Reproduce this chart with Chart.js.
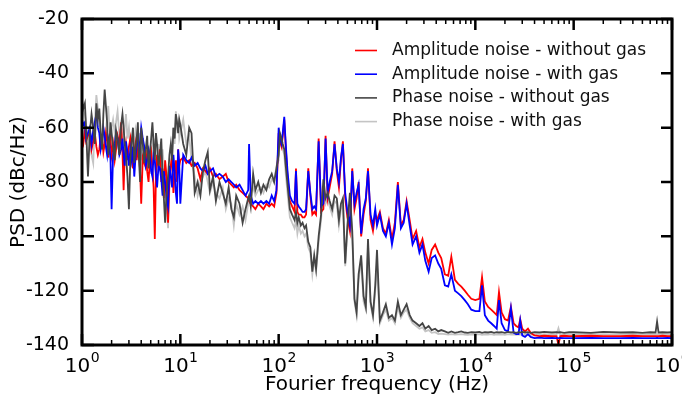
<!DOCTYPE html>
<html>
<head>
<meta charset="utf-8">
<title>PSD</title>
<script src="https://cdn.jsdelivr.net/npm/chart.js@4.4.1/dist/chart.umd.min.js"></script>
<style>
  html, body { margin: 0; padding: 0; background: #fff; overflow: hidden; }
  canvas { display: block; }
</style>
</head>
<body>
<canvas id="psdChart" width="682" height="401"></canvas>
<script>
// Fourier frequency (Hz)
const freq = [
  1, 1.03, 1.07, 1.1, 1.15, 1.2, 1.25, 1.3, 1.35, 1.4, 1.45, 1.5, 1.55, 1.6, 1.65, 1.7, 1.75, 1.8, 1.85, 1.9, 1.95, 2, 2.07, 2.15, 2.22, 2.3, 2.4, 2.5, 2.58, 2.65, 2.72, 2.8, 2.9, 3, 3.1, 3.2, 3.3, 3.4, 3.5, 3.6, 3.7, 3.8, 3.9, 4, 4.15, 4.3, 4.45, 4.6, 4.75, 4.9, 5.05, 5.2, 5.35, 5.5, 5.65, 5.8, 6, 6.2, 6.4, 6.6, 6.8, 7, 7.25, 7.5, 7.75, 8, 8.25, 8.5, 8.75, 9, 9.25, 9.5, 9.75,
  10, 10.7, 11.5, 12.3, 13, 14, 15, 16, 17, 18, 19, 20, 21.5, 23, 25, 27, 29, 31, 33, 35, 37, 40, 43, 46, 49, 50, 52, 55, 58, 62, 66, 70, 75, 80, 85, 90, 95,
  100, 103, 107, 110, 114, 118, 123, 130, 137, 145, 150, 155, 160, 168, 175, 183, 190, 200, 210, 220, 230, 240, 255, 270, 285, 300, 315, 330, 350, 370, 390, 410, 430, 450, 475, 500, 530, 560, 590, 620, 650, 690, 730, 770, 810, 860, 910, 960,
  1000, 1070, 1150, 1230, 1320, 1420, 1520, 1630, 1750, 1870, 2000, 2150, 2300, 2500, 2700, 2900, 3100, 3350, 3600, 3900, 4200, 4500, 4900, 5300, 5700, 6200, 6700, 7200, 7800, 8400, 9100,
  10000, 11000, 11700, 12500, 13500, 14500, 15500, 16500, 17400, 18500, 20000, 21500, 23000, 24500, 26000, 27500, 28600, 30000, 32000, 34300, 36500, 40000, 45000, 50000, 60000, 67000, 70000, 73000, 80000, 90000,
  100000, 150000, 200000, 300000, 400000, 500000, 600000, 680000, 705000, 730000, 800000, 900000, 1000000
];

// PSD (dBc/Hz)
const ampNoGas = [
  -64.5, -66, -61, -65, -63, -62, -68, -65, -62, -67, -70, -68, -63, -64, -69, -66, -62, -65, -71, -67, -64, -70, -66, -72, -68, -63, -66, -58, -69, -83, -70, -66, -72, -67, -64, -70, -75, -69, -66, -72, -68, -70, -76, -88, -71, -73, -68, -76, -80, -72, -69, -75, -82, -101, -78, -70, -74, -68, -80, -75, -86, -72, -78, -95, -79, -74, -70, -84, -77, -72, -80, -68, -74,
  -72, -71, -73, -72, -74, -73, -75, -79, -75, -76, -77, -75, -78, -77, -79, -78, -77, -80, -81, -82, -81, -83, -84, -85, -86, -87, -88, -89, -90, -88, -89, -90, -88, -89, -88, -89, -84,
  -62, -65, -67, -63, -57, -67, -78, -87, -89, -91, -75, -91, -92, -92, -93, -93, -92, -75, -85, -92, -91, -92, -64, -91, -90, -63, -86, -82, -77, -65, -76, -82, -72, -65, -86, -93, -98, -75, -90, -86, -80, -100, -92, -87, -75, -94, -98, -92,
  -94, -91, -97, -99, -94, -101, -95, -80, -96, -94, -87, -94, -101, -98, -104, -101, -106, -110, -105, -103, -106, -108, -114, -114.5, -107.5, -116, -117.5, -118.5, -120, -121.5, -123,
  -123.5, -123, -115, -124, -126, -127, -128, -129, -120.5, -128, -130.5, -131, -126, -132, -133, -133.5, -130.5, -134, -135, -134, -135.5, -136.5, -136.7, -136.6, -136.7, -136.7, -140, -136.7, -136.6, -136.7,
  -136.7, -136.6, -136.7, -136.7, -136.6, -136.7, -136.7, -136.7, -136.7, -136.7, -136.6, -136.7, -136.7
];
const ampGas = [
  -57, -59, -58, -64, -62, -60, -66, -61, -58, -55, -60, -62, -68, -65, -60, -63, -67, -70, -64, -66, -72, -90, -70, -66, -62, -64, -70, -68, -64, -70, -74, -65, -69, -74, -68, -72, -67, -78, -71, -66, -63, -70, -65, -60, -64, -67, -74, -72, -68, -70, -76, -78, -70, -72, -77, -82, -74, -75, -79, -85, -76, -80, -86, -89, -74, -78, -82, -70, -76, -84, -88, -68, -74,
  -88, -70, -72, -73, -71, -74, -73, -75, -76, -74, -77, -76, -75, -78, -77, -78, -80, -79, -80, -81, -82, -81, -83, -85, -83, -66, -85, -88, -87, -88, -87, -88, -87, -88, -85, -87, -83,
  -60, -64, -66, -62, -56, -66, -76, -85, -87, -88, -76, -88, -89, -90, -91, -91, -90, -76, -84, -90, -89, -90, -65, -89, -88, -64, -84, -80, -76, -66, -75, -80, -71, -66, -84, -91, -96, -76, -88, -84, -81, -99, -90, -86, -76, -92, -96, -90,
  -96, -92, -98, -100, -95, -103, -97, -81, -97, -95, -88, -96, -103, -100, -106, -103, -109, -113, -108, -107, -110, -112, -118, -118.5, -114, -120, -121, -122, -123.5, -125, -127,
  -127.5, -127.5, -118, -129, -131, -132, -133, -134, -123.5, -132, -134.5, -135, -126.5, -135.5, -136, -136, -131, -136.5, -137, -136, -137, -137.5, -137.3, -137.5, -137.4, -137.5, -137.5, -137.4, -137.5, -137.5,
  -137.5, -137.4, -137.5, -137.5, -137.4, -137.5, -137.5, -137.5, -137.4, -137.5, -137.5, -137.4, -137.5
];
const phaseNoGas = [
  -50, -53, -51, -60, -78, -62, -55, -60, -66, -51, -57, -53, -62, -68, -55, -46, -52, -58, -70, -66, -58, -62, -67, -72, -61, -64, -70, -59, -55, -60, -66, -70, -78, -90, -72, -65, -60, -73, -68, -64, -58, -72, -80, -60, -66, -73, -68, -63, -75, -70, -64, -58, -66, -72, -62, -66, -74, -70, -64, -78, -86, -95, -84, -78, -70, -66, -72, -60, -64, -55, -58, -62, -57,
  -59, -66, -70, -60, -62, -84, -80, -85, -76, -72, -69, -83, -78, -87, -80, -84, -88, -82, -90, -93, -85, -88, -95, -90, -86, -85, -89, -77, -83, -80, -84, -81, -83, -79, -77, -80, -75,
  -70, -62, -64, -66, -68, -74, -81, -90, -92, -94, -91, -95, -93, -96, -95, -97, -96, -102, -104, -113, -107, -112, -100, -92, -79, -86, -84, -87, -90, -85, -86, -94, -88, -86, -110, -96, -84, -98, -123, -128, -114, -107, -122, -126, -101, -124, -129, -118,
  -105, -131, -128, -125, -130, -129, -131, -124, -129, -127, -125, -129, -131, -132, -133, -132, -134, -133, -134.5, -134, -135, -134.5, -135, -135.5, -135, -135.5, -135.3, -135, -135.4, -135.5, -135.3,
  -135.4, -135.2, -135.5, -135.3, -135.4, -135.2, -135.5, -135.3, -135.4, -135.3, -135.5, -135.2, -135.4, -135.3, -135.5, -135.3, -135.4, -135.2, -135.4, -135.3, -135.5, -135.3, -135.4, -135.2, -135.4, -135.3, -135.4, -135.3, -135.5, -135.3,
  -135.3, -135.5, -135.2, -135.4, -135.3, -135.5, -135.3, -135.4, -131.4, -135.4, -135.3, -135.4, -135.3
];
const phaseGas = [
  -58, -54, -55, -59, -62, -66, -70, -73, -58, -48, -53, -58, -66, -64, -60, -68, -62, -56, -52, -60, -64, -60, -57, -62, -58, -54, -63, -60, -65, -66, -60, -55, -64, -60, -67, -70, -63, -66, -61, -64, -69, -62, -67, -72, -65, -68, -75, -74, -67, -71, -77, -68, -64, -73, -80, -70, -66, -76, -72, -68, -74, -84, -90, -97, -82, -75, -68, -60, -66, -54, -60, -58, -64,
  -62, -57, -66, -63, -72, -78, -85, -80, -78, -76, -80, -84, -80, -84, -86, -82, -90, -86, -88, -96, -88, -92, -89, -94, -88, -86, -84, -82, -85, -83, -82, -84, -81, -82, -79, -80, -74,
  -72, -64, -66, -68, -70, -77, -84, -93, -95, -97, -94, -99, -96, -99, -98, -100, -99, -104, -106, -114, -108, -113, -102, -94, -82, -88, -86, -89, -92, -87, -88, -96, -90, -88, -111, -98, -86, -100, -124, -129, -116, -109, -124, -127, -103, -125, -130, -120,
  -110, -132, -129, -127, -131, -130, -132, -126, -130, -128, -127, -130, -132, -133, -134, -133.5, -135, -134.5, -135.5, -135.3, -136, -135.8, -136, -136.2, -136, -136.2, -136.1, -136, -136.2, -136.3, -136.1,
  -136.2, -136, -136.3, -136.1, -136.2, -136, -136.3, -136.1, -136.2, -136.1, -136.3, -136, -136.2, -136.1, -136.3, -136.1, -136.2, -136, -136.2, -136.1, -136.3, -136.1, -136.2, -136, -136.2, -136.1, -133.8, -136.1, -136.3, -136.1,
  -136.1, -136.2, -136, -136.2, -136.1, -136.3, -136.1, -136.2, -136, -136.2, -136.1, -136.2, -136.1
];

const seriesLabels = ['Amplitude noise - without gas', 'Amplitude noise - with gas', 'Phase noise - without gas', 'Phase noise - with gas'];
const decadeTicks = [1, 10, 100, 1000, 10000, 100000, 1000000];
const decadeExp = ['0', '1', '2', '3', '4', '5', '6'];
const psdTicks = [-140, -120, -100, -80, -60, -40, -20];

const FONT = '"DejaVu Sans", "Liberation Sans", Arial, sans-serif';
const toXY = vals => freq.map((f, i) => ({ x: f, y: vals[i] }));

// frame, inward ticks, x tick labels with superscripts
const frameAndTicks = {
  id: 'frameAndTicks',
  afterDatasetsDraw(chart) {
    const { ctx, chartArea: a, scales: { x, y } } = chart;
    ctx.save();
    ctx.strokeStyle = '#000';

    ctx.lineWidth = 1.5;
    ctx.beginPath();
    for (let d = 0; d < decadeTicks.length - 1; d++) {
      for (let m = 2; m <= 9; m++) {
        const px = x.getPixelForValue(decadeTicks[d] * m);
        ctx.moveTo(px, a.bottom); ctx.lineTo(px, a.bottom - 5);
        ctx.moveTo(px, a.top); ctx.lineTo(px, a.top + 5);
      }
    }
    ctx.stroke();

    ctx.lineWidth = 2.5;
    ctx.beginPath();
    decadeTicks.forEach(v => {
      const px = x.getPixelForValue(v);
      ctx.moveTo(px, a.bottom); ctx.lineTo(px, a.bottom - 11);
      ctx.moveTo(px, a.top); ctx.lineTo(px, a.top + 11);
    });
    psdTicks.forEach(v => {
      const py = y.getPixelForValue(v);
      ctx.moveTo(a.left, py); ctx.lineTo(a.left + 12, py);
      ctx.moveTo(a.right, py); ctx.lineTo(a.right - 11, py);
    });
    ctx.stroke();

    ctx.lineWidth = 3;
    ctx.strokeRect(a.left, a.top, a.right - a.left, a.bottom - a.top);

    ctx.fillStyle = '#000';
    ctx.textBaseline = 'alphabetic';
    ctx.textAlign = 'left';
    decadeTicks.forEach((v, i) => {
      const px = x.getPixelForValue(v);
      ctx.font = '20px ' + FONT;
      const wBase = ctx.measureText('10').width;
      ctx.font = '14px ' + FONT;
      const wExp = ctx.measureText(decadeExp[i]).width;
      const left = px - (wBase + wExp) / 2;
      ctx.font = '20px ' + FONT;
      ctx.fillText('10', left, a.bottom + 27);
      ctx.font = '14px ' + FONT;
      ctx.fillText(decadeExp[i], left + wBase + 0.5, a.bottom + 17);
    });
    ctx.restore();
  }
};

// legend inside plot, top right
const insideLegend = {
  id: 'insideLegend',
  afterDraw(chart) {
    const { ctx } = chart;
    ctx.save();
    ctx.font = '17px ' + FONT;
    ctx.textBaseline = 'middle';
    ctx.textAlign = 'left';
    chart.data.datasets.forEach((ds, i) => {
      const yy = 50.5 + i * 23.7;
      ctx.strokeStyle = ds.borderColor;
      ctx.lineWidth = 1.6;
      ctx.beginPath();
      ctx.moveTo(355, yy); ctx.lineTo(377, yy);
      ctx.stroke();
      ctx.fillStyle = '#111';
      ctx.fillText(ds.label, 392, yy);
    });
    ctx.restore();
  }
};

new Chart(document.getElementById('psdChart'), {
  type: 'line',
  data: {
    datasets: [
      { label: seriesLabels[0], data: toXY(ampNoGas), borderColor: '#ff0000', order: 2 },
      { label: seriesLabels[1], data: toXY(ampGas), borderColor: '#0000ff', order: 1 },
      { label: seriesLabels[2], data: toXY(phaseNoGas), borderColor: '#454545', order: 0 },
      { label: seriesLabels[3], data: toXY(phaseGas), borderColor: '#c4c4c4', order: 3 }
    ]
  },
  options: {
    responsive: false,
    animation: false,
    devicePixelRatio: 1,
    layout: { padding: { left: 0, top: 19, right: 10, bottom: 0 } },
    elements: {
      point: { radius: 0 },
      line: { borderWidth: 1.8, tension: 0 }
    },
    scales: {
      x: {
        type: 'logarithmic',
        min: 1,
        max: 1000000,
        grid: { display: false },
        border: { display: false },
        ticks: { display: false },
        title: {
          display: true,
          text: 'Fourier frequency (Hz)',
          color: '#000',
          font: { family: FONT, size: 20 },
          padding: { top: 4, bottom: 4 }
        },
        afterFit: s => { s.height = 56; s.paddingLeft = 0; s.paddingRight = 0; }
      },
      y: {
        min: -140,
        max: -20,
        grid: { display: false },
        border: { display: false },
        afterBuildTicks: s => { s.ticks = psdTicks.map(v => ({ value: v })); },
        ticks: {
          color: '#000',
          padding: 5,
          font: { family: FONT, size: 19 }
        },
        title: {
          display: true,
          text: 'PSD (dBc/Hz)',
          color: '#000',
          font: { family: FONT, size: 20 },
          padding: { top: 7, bottom: 4 }
        },
        afterFit: s => { s.width = 82; }
      }
    },
    plugins: {
      legend: { display: false },
      tooltip: { enabled: false }
    }
  },
  plugins: [frameAndTicks, insideLegend]
});
</script>
</body>
</html>
